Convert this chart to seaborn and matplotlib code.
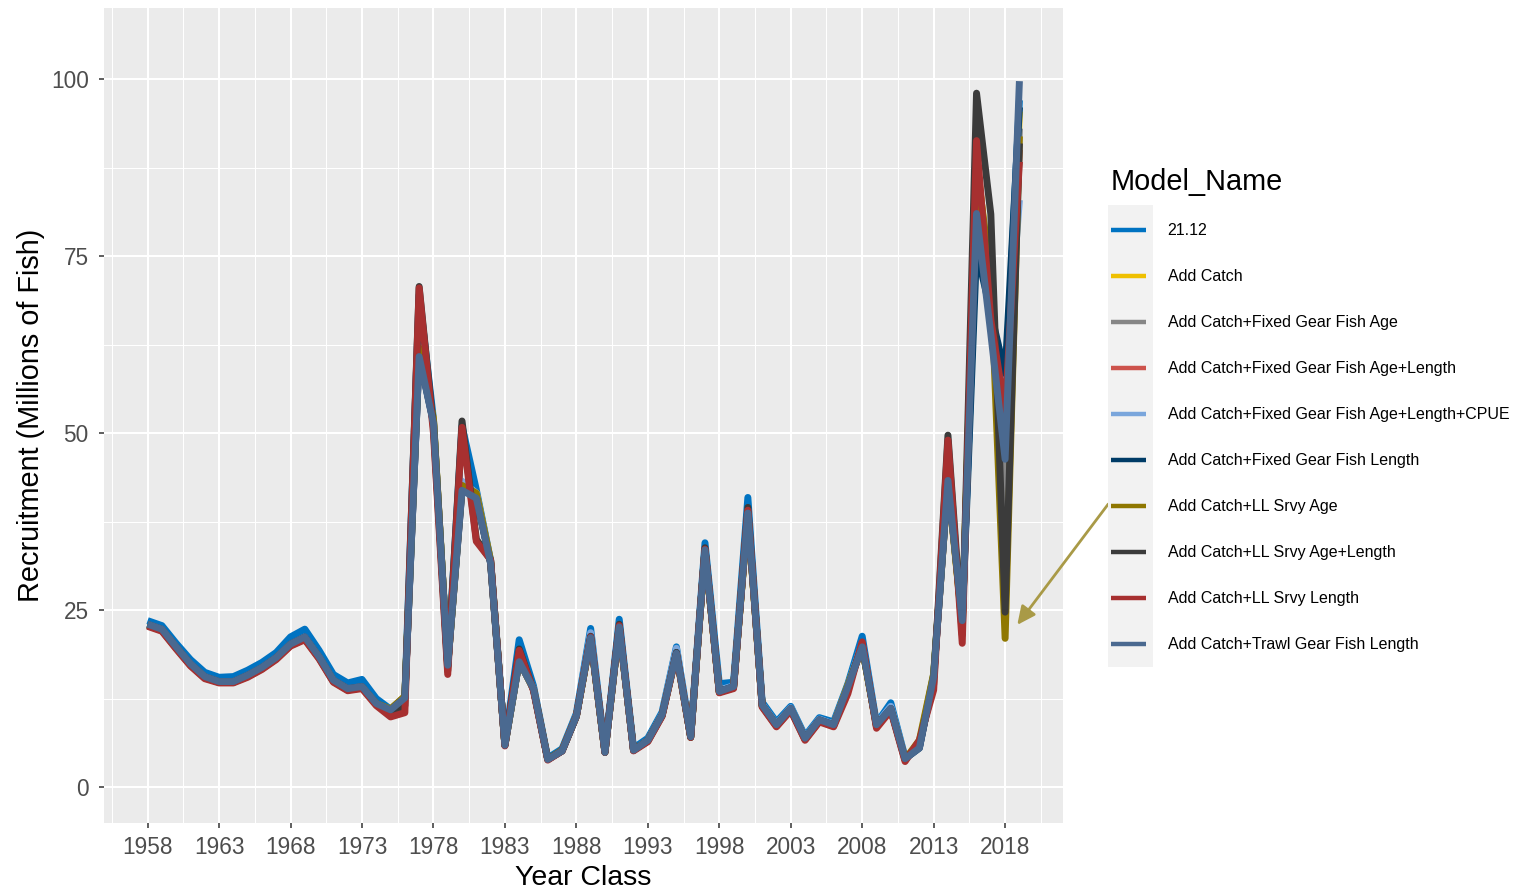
import matplotlib
matplotlib.use("Agg")
import matplotlib.pyplot as plt
import seaborn as sns
import pandas as pd
import numpy as np
from matplotlib.lines import Line2D
from matplotlib.patches import Rectangle
from matplotlib.ticker import FixedLocator

plt.rcParams['font.family'] = ['Liberation Sans', 'DejaVu Sans']

years = list(range(1958, 2020))

model_names = [
    "21.12",
    "Add Catch",
    "Add Catch+Fixed Gear Fish Age",
    "Add Catch+Fixed Gear Fish Age+Length",
    "Add Catch+Fixed Gear Fish Age+Length+CPUE",
    "Add Catch+Fixed Gear Fish Length",
    "Add Catch+LL Srvy Age",
    "Add Catch+LL Srvy Age+Length",
    "Add Catch+LL Srvy Length",
    "Add Catch+Trawl Gear Fish Length",
]

colors = ["#0073C2", "#EFC000", "#868686", "#CD534C", "#7AA6DC",
          "#003C67", "#8F7700", "#3B3B3B", "#A73030", "#4A6990"]

rec_2112 = [23.5, 22.8, 20.3, 18.0, 16.2, 15.5, 15.6, 16.5, 17.6, 19.0,
            21.2, 22.3, 19.3, 15.9, 14.7, 15.2, 12.5, 11.0, 12.7, 69.5,
            52.0, 17.0, 51.0, 42.0, 32.0, 6.1, 20.8, 14.3, 4.1, 5.4,
            10.4, 22.4, 5.1, 23.7, 5.5, 6.9, 10.6, 19.8, 7.4, 34.5,
            14.6, 14.8, 40.9, 12.0, 9.2, 11.4, 7.2, 9.8, 9.2, 14.6,
            21.3, 9.0, 11.9, 4.2, 5.7, 15.9, 43.5, 23.8, 80.0, 66.0,
            55.0, 97.0]

rec_add_catch = [22.9, 22.2, 19.7, 17.3, 15.5, 14.8, 14.8, 15.7, 16.8, 18.2,
                 20.1, 21.0, 18.3, 15.0, 13.8, 14.1, 11.7, 11.0, 12.8, 62.0,
                 52.0, 17.3, 43.0, 41.5, 31.8, 5.9, 17.9, 13.9, 3.9, 5.1,
                 10.0, 21.0, 4.9, 22.5, 5.2, 6.6, 10.2, 18.9, 7.1, 33.3,
                 13.4, 14.1, 38.5, 11.5, 8.7, 11.0, 6.8, 9.4, 8.7, 14.3,
                 19.7, 8.7, 11.0, 4.0, 6.2, 15.8, 43.0, 23.0, 89.0, 70.0,
                 44.0, 95.4]

rec_fg_age = [22.9, 22.2, 19.7, 17.3, 15.5, 14.8, 14.8, 15.7, 16.8, 18.2,
              20.1, 21.0, 18.3, 15.0, 13.8, 14.1, 11.7, 10.9, 12.8, 61.5,
              51.8, 17.2, 42.5, 41.0, 31.7, 5.9, 17.8, 13.9, 3.9, 5.1,
              10.0, 21.2, 4.9, 22.6, 5.2, 6.6, 10.2, 19.0, 7.1, 33.4,
              13.5, 14.2, 38.6, 11.6, 8.8, 11.1, 6.9, 9.5, 8.8, 14.2,
              19.8, 8.8, 11.1, 4.0, 5.8, 15.6, 43.2, 23.2, 85.0, 68.0,
              39.0, 93.0]

rec_fg_age_len = [22.9, 22.2, 19.7, 17.3, 15.5, 14.8, 14.8, 15.7, 16.8, 18.2,
                  20.1, 21.0, 18.3, 15.0, 13.8, 14.1, 11.7, 10.9, 12.7, 61.2,
                  51.6, 17.2, 42.2, 41.0, 31.7, 5.9, 17.8, 13.9, 3.9, 5.1,
                  10.0, 21.3, 4.9, 22.7, 5.2, 6.6, 10.2, 19.1, 7.1, 33.5,
                  13.5, 14.2, 38.8, 11.6, 8.8, 11.1, 6.9, 9.5, 8.8, 14.2,
                  19.9, 8.8, 11.2, 4.0, 5.6, 15.5, 43.4, 23.3, 84.0, 67.0,
                  50.0, 90.0]

rec_fg_cpue = [23.0, 22.3, 19.8, 17.4, 15.6, 14.9, 14.9, 15.8, 16.9, 18.3,
               20.2, 21.2, 18.4, 15.1, 13.9, 14.2, 11.8, 10.9, 12.6, 61.0,
               51.6, 17.3, 43.2, 41.5, 31.8, 5.9, 18.0, 14.0, 3.9, 5.1,
               10.1, 21.8, 4.9, 22.9, 5.2, 6.6, 10.3, 19.6, 7.1, 33.7,
               13.7, 14.3, 39.2, 11.7, 8.9, 11.2, 7.0, 9.6, 8.9, 14.3,
               20.3, 8.9, 11.4, 4.1, 5.6, 15.7, 43.5, 23.5, 80.0, 66.0,
               56.5, 82.9]

rec_fg_len = [23.0, 22.3, 19.8, 17.4, 15.6, 14.9, 14.9, 15.8, 16.9, 18.3,
              20.2, 21.2, 18.4, 15.1, 13.9, 14.2, 11.8, 10.9, 12.6, 60.9,
              51.5, 17.2, 42.0, 40.9, 31.6, 5.9, 17.8, 13.9, 3.9, 5.1,
              10.0, 21.2, 4.9, 22.7, 5.2, 6.6, 10.2, 19.0, 7.1, 33.6,
              13.5, 14.2, 38.8, 11.6, 8.8, 11.1, 6.9, 9.5, 8.8, 14.2,
              19.9, 8.8, 11.1, 4.0, 5.5, 15.6, 43.3, 23.5, 75.8, 67.0,
              58.4, 96.0]

rec_ll_age = [22.9, 22.2, 19.7, 17.3, 15.5, 14.8, 14.8, 15.7, 16.8, 18.2,
              20.1, 21.0, 18.3, 15.0, 13.8, 14.1, 11.8, 11.0, 12.8, 62.0,
              52.0, 17.0, 42.6, 41.5, 32.0, 5.9, 17.9, 13.8, 3.9, 5.2,
              10.0, 21.0, 4.9, 22.6, 5.2, 6.5, 10.1, 18.8, 7.0, 33.4,
              13.4, 14.1, 38.6, 11.5, 8.7, 11.0, 6.8, 9.4, 8.7, 14.4,
              19.8, 8.6, 11.0, 3.9, 6.6, 16.0, 44.0, 22.5, 88.0, 72.0,
              21.0, 91.9]

rec_ll_age_len = [22.8, 22.1, 19.6, 17.2, 15.4, 14.8, 14.8, 15.6, 16.7, 18.1,
                  20.0, 20.9, 18.2, 14.9, 13.7, 14.0, 11.7, 10.5, 11.5, 70.7,
                  50.8, 16.4, 51.7, 35.0, 32.1, 5.9, 19.5, 13.7, 3.9, 5.1,
                  10.0, 21.3, 4.9, 23.0, 5.2, 6.5, 10.1, 19.0, 7.0, 33.8,
                  13.4, 14.0, 39.5, 11.4, 8.6, 10.9, 6.7, 9.3, 8.6, 13.8,
                  20.3, 8.5, 10.9, 3.8, 6.2, 14.5, 49.7, 21.5, 98.0, 80.9,
                  24.7, 90.9]

rec_ll_len = [22.7, 22.0, 19.5, 17.1, 15.3, 14.7, 14.7, 15.5, 16.6, 18.0,
              19.9, 20.8, 18.1, 14.8, 13.6, 13.9, 11.5, 9.9, 10.5, 70.5,
              50.0, 15.9, 50.8, 34.7, 32.1, 5.8, 19.3, 13.6, 3.8, 5.1,
              10.0, 21.2, 4.9, 22.8, 5.1, 6.4, 10.0, 18.8, 7.0, 33.6,
              13.3, 13.9, 39.1, 11.3, 8.5, 10.8, 6.6, 9.2, 8.5, 13.2,
              20.5, 8.3, 10.8, 3.6, 6.6, 13.7, 49.0, 20.3, 91.3, 66.0,
              53.0, 88.3]

rec_trawl_len = [23.0, 22.3, 19.8, 17.4, 15.6, 14.9, 14.9, 15.8, 16.9, 18.3,
                 20.2, 21.2, 18.4, 15.1, 13.9, 14.2, 11.8, 10.9, 12.6, 60.8,
                 51.4, 17.2, 41.9, 40.8, 31.6, 5.9, 17.7, 13.9, 3.9, 5.1,
                 10.0, 21.1, 4.9, 22.6, 5.2, 6.6, 10.2, 18.9, 7.1, 33.5,
                 13.5, 14.2, 38.7, 11.6, 8.8, 11.1, 6.9, 9.5, 8.8, 14.2,
                 19.8, 8.8, 11.1, 4.0, 5.5, 15.6, 43.3, 23.5, 81.0, 64.0,
                 46.3, 99.7]

series = [rec_2112, rec_add_catch, rec_fg_age, rec_fg_age_len, rec_fg_cpue,
          rec_fg_len, rec_ll_age, rec_ll_age_len, rec_ll_len, rec_trawl_len]

x_breaks = list(range(1958, 2019, 5))
y_breaks = [0, 25, 50, 75, 100]

frames = []
for name, vals in zip(model_names, series):
    frames.append(pd.DataFrame({"Year": years, "Recruitment": vals, "Model_Name": name}))
df = pd.concat(frames, ignore_index=True)

W, H = 1524, 889
fig = plt.figure(figsize=(W / 100, H / 100), dpi=100)
ax = fig.add_axes([104 / W, 1 - 823 / H, (1063 - 104) / W, (823 - 8) / H])
ax.set_facecolor("#EBEBEB")

sns.lineplot(data=df, x="Year", y="Recruitment", hue="Model_Name",
             hue_order=model_names, palette=colors, linewidth=5.0,
             estimator=None, sort=True, legend=False, ax=ax,
             solid_joinstyle="round", solid_capstyle="butt", zorder=3)

ax.set_xlim(1954.95, 2022.05)
ax.set_ylim(-5.08, 110.03)
ax.xaxis.set_major_locator(FixedLocator(x_breaks))
ax.xaxis.set_minor_locator(FixedLocator([b - 2.5 for b in x_breaks] + [x_breaks[-1] + 2.5]))
ax.yaxis.set_major_locator(FixedLocator(y_breaks))
ax.yaxis.set_minor_locator(FixedLocator([b + 12.5 for b in y_breaks[:-1]]))
ax.set_xticklabels([str(b) for b in x_breaks])
ax.set_yticklabels([str(b) for b in y_breaks])
ax.grid(which="major", color="white", linewidth=1.5, zorder=0)
ax.grid(which="minor", color="white", linewidth=0.75, zorder=0)
ax.set_axisbelow(True)
for s in ax.spines.values():
    s.set_visible(False)
ax.tick_params(which="major", length=3.5, width=1.1, color="#333333",
               labelcolor="#4D4D4D", labelsize=16.3)
ax.tick_params(axis="x", which="major", pad=6)
ax.tick_params(axis="y", which="major", pad=7.5)
ax.tick_params(which="minor", length=0)
ax.set_xlabel("Year Class", fontsize=20.5, color="black", labelpad=4)
ax.set_ylabel("Recruitment (Millions of Fish)", fontsize=20.8, color="black", labelpad=4)

# annotation arrow pointing at LL Srvy Age 2018 value
ax.annotate("", xy=(years[-2] + 0.85, rec_ll_age[-2] + 1.9), xycoords="data",
            xytext=(65.5, 87.0), textcoords="offset points",
            arrowprops=dict(arrowstyle="-|>,head_length=0.55,head_width=0.26",
                            color="#A99A47", lw=2.0, mutation_scale=20,
                            shrinkA=0, shrinkB=0),
            annotation_clip=False)

# legend key background
fig.patches.append(Rectangle((1108 / W, 1 - 667 / H), 45 / W, 462 / H,
                             transform=fig.transFigure, facecolor="#F2F2F2",
                             edgecolor="none", zorder=0))

handles = [Line2D([0], [0], color=c, lw=3.2, solid_capstyle="butt") for c in colors]
leg = fig.legend(handles, model_names, loc="upper left",
                 bbox_to_anchor=(1111 / W, 1 - 168 / H), frameon=False,
                 fontsize=11.5, title="Model_Name", title_fontsize=20.8,
                 handlelength=2.2, handletextpad=1.35, labelspacing=1.94,
                 borderpad=0, borderaxespad=0)
leg._legend_box.align = "left"
leg._legend_box.sep = 19.6

fig.savefig("out.png", dpi=100, facecolor="white")
